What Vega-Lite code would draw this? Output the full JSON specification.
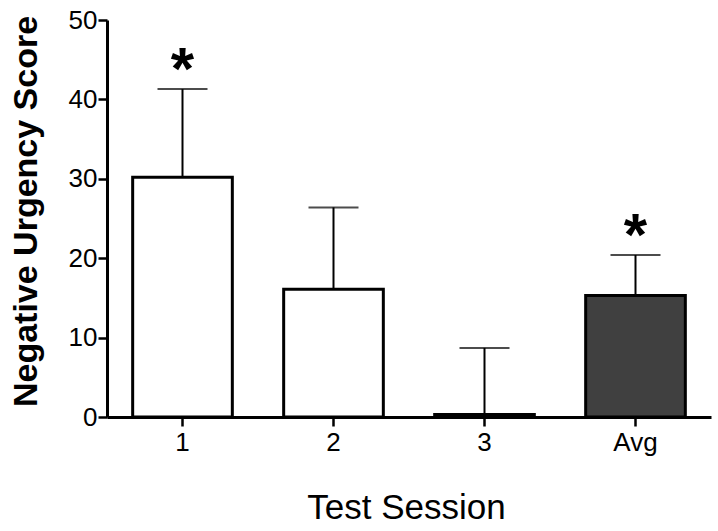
{
  "$schema": "https://vega.github.io/schema/vega-lite/v6.json",
  "width": 604,
  "height": 397,
  "autosize": {"type": "none"},
  "padding": {"left": 107, "top": 20, "right": 7, "bottom": 114},
  "background": "white",
  "config": {
    "view": {"stroke": null},
    "font": "Liberation Sans",
    "axis": {
      "grid": false,
      "domainColor": "black",
      "tickColor": "black",
      "labelColor": "black",
      "titleColor": "black",
      "domainWidth": 3,
      "tickWidth": 2.5,
      "tickSize": 9,
      "labelFont": "Liberation Sans",
      "labelFontSize": 26,
      "titleFont": "Liberation Sans"
    },
    "axisY": {
      "tickCount": 5,
      "labelPadding": 1,
      "titleFontSize": 34,
      "titleFontWeight": "bold",
      "titleX": -81,
      "titleY": 191,
      "titleAlign": "center",
      "titleBaseline": "middle",
      "titleAngle": -90
    }
  },
  "data": {
    "values": [
      {"session": "1", "mean": 30.2, "upper": 41.3, "sig": "*"},
      {"session": "2", "mean": 16.1, "upper": 26.4, "sig": ""},
      {"session": "3", "mean": 0.3, "upper": 8.7, "sig": ""},
      {"session": "Avg", "mean": 15.3, "upper": 20.4, "sig": "*"}
    ]
  },
  "encoding": {
    "x": {
      "field": "session",
      "type": "nominal",
      "sort": null,
      "scale": {"paddingInner": 0.34, "paddingOuter": 0.17},
      "axis": {
        "title": "Test Session",
        "labelAngle": 0,
        "labelPadding": 3,
        "titleFontSize": 35,
        "titleFontWeight": "normal",
        "titleX": 299,
        "titleY": 90,
        "titleAlign": "center",
        "titleBaseline": "middle"
      }
    }
  },
  "layer": [
    {
      "mark": {"type": "rule", "strokeWidth": 2, "color": "black"},
      "encoding": {
        "y": {"field": "mean", "type": "quantitative", "title": "Negative Urgency Score", "scale": {"domain": [0, 50]}},
        "y2": {"field": "upper"}
      }
    },
    {
      "mark": {"type": "tick", "size": 50, "thickness": 2, "color": "black"},
      "encoding": {
        "y": {"field": "upper", "type": "quantitative", "title": "Negative Urgency Score"}
      }
    },
    {
      "mark": {"type": "bar", "stroke": "black", "strokeWidth": 3},
      "encoding": {
        "y": {"field": "mean", "type": "quantitative", "title": "Negative Urgency Score"},
        "fill": {
          "field": "session",
          "type": "nominal",
          "scale": {"domain": ["1", "2", "3", "Avg"], "range": ["white", "white", "white", "#404040"]},
          "legend": null
        }
      }
    },
    {
      "mark": {"type": "text", "fontSize": 60, "fontWeight": "bold", "baseline": "alphabetic", "align": "center", "dy": 0, "color": "black"},
      "encoding": {
        "y": {"field": "upper", "type": "quantitative", "title": "Negative Urgency Score"},
        "text": {"field": "sig"}
      }
    }
  ]
}
